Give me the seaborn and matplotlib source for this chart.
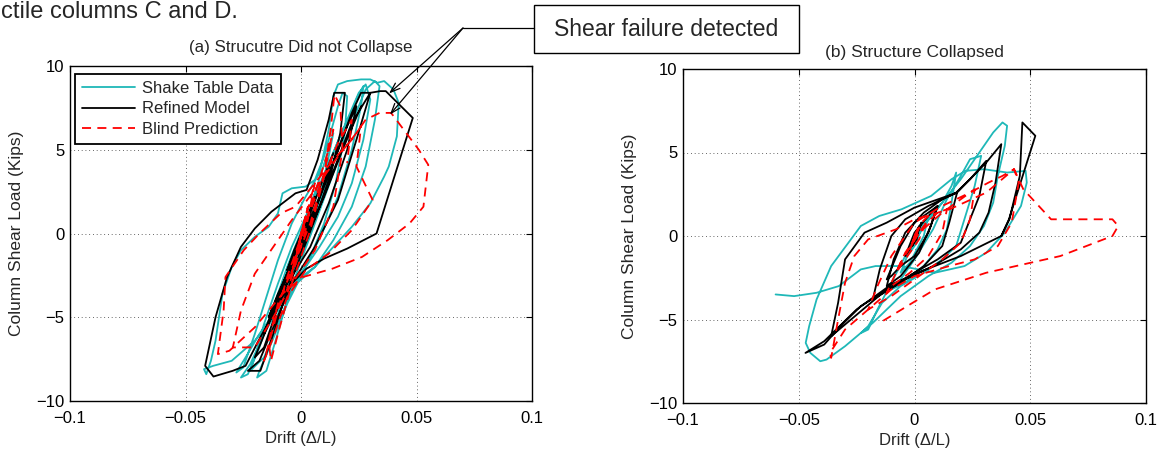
import numpy as np
import pandas as pd
import matplotlib
matplotlib.use("Agg")
import matplotlib.pyplot as plt
from matplotlib.lines import Line2D
from matplotlib.patches import Rectangle
import seaborn as sns

# drift (Delta/L), column shear load (kips)

# (a) structure did not collapse
shake_a = [
    (0.000, 0.2), (0.004, 1.6), (0.007, 2.8), (0.005, 1.8), (0.001, 0.2), (-0.004, -1.4),
    (-0.007, -2.6), (-0.004, -1.6), (0.000, 0.0), (0.006, 2.4), (0.011, 4.6), (0.014, 6.0),
    (0.012, 4.6), (0.008, 2.0), (0.003, -0.2), (-0.003, -2.2), (-0.009, -4.4), (-0.013, -6.2),
    (-0.010, -5.0), (-0.005, -3.0), (0.002, -0.6), (0.010, 2.6), (0.018, 5.8), (0.024, 8.0),
    (0.027, 8.8), (0.026, 7.6), (0.022, 5.0), (0.016, 2.2), (0.009, 0.0), (0.002, -2.0),
    (-0.006, -4.2), (-0.013, -6.6), (-0.018, -8.2), (-0.019, -8.6), (-0.015, -8.2),
    (-0.011, -6.4), (-0.006, -4.0), (-0.001, -2.0), (0.006, 0.6), (0.014, 3.6), (0.022, 6.6),
    (0.028, 8.6), (0.032, 9.1), (0.034, 8.8), (0.032, 6.8), (0.028, 4.0), (0.022, 1.6),
    (0.014, -0.4), (0.006, -2.0), (-0.002, -3.0), (-0.010, -4.4), (-0.018, -6.0),
    (-0.024, -7.4), (-0.028, -8.3), (-0.025, -8.0), (-0.020, -6.0), (-0.015, -3.8),
    (-0.010, -1.6), (-0.004, 0.6), (0.002, 2.2), (0.008, 3.6), (0.012, 6.2), (0.014, 8.2),
    (0.016, 8.9), (0.020, 9.1), (0.026, 9.2), (0.030, 9.2), (0.033, 9.0), (0.036, 9.1),
    (0.040, 8.6), (0.0423, 7.8), (0.0415, 5.8), (0.038, 4.0), (0.036, 3.4), (0.030, 1.8),
    (0.022, 0.4), (0.014, -0.8), (0.006, -2.0), (-0.002, -2.8), (-0.006, -3.6),
    (-0.012, -5.0), (-0.020, -6.4), (-0.030, -7.6), (-0.038, -7.9), (-0.042, -8.1),
    (-0.041, -8.4), (-0.039, -7.6), (-0.037, -6.4), (-0.034, -3.6), (-0.030, -2.0),
    (-0.026, -1.0), (-0.020, -0.2), (-0.014, 0.4), (-0.010, 1.2), (-0.008, 2.4),
    (-0.004, 2.7), (0.002, 2.8), (0.006, 3.2), (0.010, 4.6), (0.014, 6.6), (0.016, 7.6),
    (0.018, 8.4), (0.020, 8.2), (0.019, 6.0), (0.015, 3.0), (0.010, 0.6), (0.004, -1.4),
    (-0.004, -3.4), (-0.010, -5.4), (-0.016, -7.4), (-0.022, -8.2), (-0.020, -7.4),
    (-0.016, -5.4), (-0.010, -3.0), (-0.004, -0.8), (0.004, 1.6), (0.012, 4.2),
    (0.020, 6.8), (0.025, 8.4), (0.028, 8.9), (0.030, 8.0), (0.027, 5.6), (0.022, 3.0),
    (0.016, 1.0), (0.008, -0.8), (0.000, -2.4), (-0.008, -4.0), (-0.016, -6.0),
    (-0.022, -7.8), (-0.026, -8.6), (-0.023, -8.4), (-0.018, -6.8), (-0.012, -4.4),
    (-0.006, -2.0), (0.002, 0.8), (0.010, 3.4), (0.018, 6.2), (0.024, 7.4),
]
refined_a = [
    (0.000, 0.0), (0.003, 1.0), (0.006, 2.2), (0.002, 0.6), (-0.003, -1.0), (-0.006, -2.2),
    (-0.002, -0.8), (0.004, 1.2), (0.010, 3.4), (0.014, 4.8), (0.010, 3.0), (0.004, 0.4),
    (-0.004, -1.8), (-0.010, -3.6), (-0.014, -5.0), (-0.009, -3.4), (-0.002, -1.0),
    (0.008, 2.2), (0.016, 5.0), (0.022, 7.2), (0.026, 8.4), (0.030, 8.4), (0.024, 5.6),
    (0.016, 2.0), (0.006, -0.8), (-0.004, -3.0), (-0.012, -5.6), (-0.018, -7.6),
    (-0.023, -8.2), (-0.0176, -8.2), (-0.012, -6.0), (-0.006, -3.4), (0.002, -0.6),
    (0.012, 3.0), (0.022, 6.6), (0.030, 8.4), (0.0343, 8.5), (0.0367, 8.5), (0.0484, 6.9),
    (0.0327, 0.0), (0.020, -0.9), (0.010, -1.5), (0.0024, -2.1), (-0.0056, -3.2),
    (-0.012, -4.8), (-0.0184, -6.4), (-0.024, -7.9), (-0.0296, -8.2), (-0.0379, -8.54),
    (-0.0415, -7.9), (-0.037, -5.0), (-0.032, -2.6), (-0.026, -0.8), (-0.020, 0.3),
    (-0.0128, 1.3), (-0.0024, 2.4), (0.0024, 2.6), (0.0072, 4.4), (0.012, 6.8),
    (0.0144, 8.4), (0.019, 8.4), (0.017, 6.0), (0.013, 3.6), (0.008, 1.6), (0.002, 0.0),
    (-0.006, -2.4), (-0.012, -4.4), (-0.016, -6.0), (-0.012, -4.6), (-0.004, -2.0),
    (0.006, 1.4), (0.014, 4.2), (0.020, 6.4), (0.024, 7.6), (0.020, 5.0), (0.012, 1.8),
    (0.004, -0.8), (-0.006, -3.0), (-0.014, -5.4), (-0.020, -7.4), (-0.016, -6.8),
    (-0.008, -3.6), (0.000, -1.0), (0.010, 2.2), (0.018, 5.0), (0.026, 7.6),
]
blind_a = [
    (0.000, 0.0), (0.002, 1.0), (-0.001, -0.6), (0.003, 1.6), (-0.002, -1.4), (0.001, 0.4),
    (-0.004, -2.4), (0.004, 2.0), (0.006, 3.0), (0.002, 0.2), (-0.004, -2.6), (-0.006, -3.4),
    (-0.002, -1.2), (0.006, 2.4), (0.012, 5.0), (0.014, 6.2), (0.010, 3.6), (0.004, 0.6),
    (-0.004, -2.2), (-0.010, -4.2), (-0.014, -6.4), (-0.013, -7.6), (-0.010, -6.0),
    (-0.004, -3.0), (0.004, 0.2), (0.010, 3.4), (0.013, 6.4), (0.0145, 8.3), (0.017, 7.6),
    (0.018, 5.0), (0.014, 1.6), (0.006, -1.0), (-0.004, -3.0), (-0.012, -5.0),
    (-0.020, -6.8), (-0.0295, -6.8), (-0.026, -4.6), (-0.020, -2.4), (-0.012, -0.8),
    (-0.004, 0.8), (0.006, 2.6), (0.016, 4.6), (0.024, 6.0), (0.028, 6.8), (0.034, 7.2),
    (0.039, 7.2), (0.051, 5.0), (0.0551, 4.1), (0.053, 1.6), (0.047, 0.6), (0.0375, -0.4),
    (0.0264, -1.4), (0.0136, -2.1), (0.0008, -2.6), (-0.008, -3.6), (-0.020, -5.6),
    (-0.031, -7.0), (-0.036, -7.2), (-0.0335, -4.6), (-0.0327, -2.6), (-0.0248, -1.0),
    (-0.018, 0.0), (-0.0088, 1.2), (-0.0024, 1.6), (0.006, 3.0), (0.014, 4.4),
    (0.022, 5.6), (0.026, 6.4), (0.024, 4.0), (0.031, 2.0), (0.022, 0.2), (0.012, -1.2),
    (0.002, -2.2), (-0.006, -3.8), (-0.012, -6.2), (-0.016, -7.6), (-0.012, -5.6),
    (-0.006, -2.6), (0.002, 0.6), (0.008, 2.8), (0.016, 5.4), (0.022, 6.8), (0.020, 4.2),
]

# (b) structure collapsed
shake_b = [
    (0.000, 0.0), (0.003, 0.8), (0.001, -0.4), (-0.002, -1.0), (0.002, 0.4), (0.006, 1.2),
    (0.004, 0.0), (-0.002, -1.6), (-0.006, -2.2), (-0.002, -0.8), (0.006, 1.0), (0.012, 2.0),
    (0.016, 3.0), (0.018, 3.8), (0.016, 2.0), (0.014, 0.4), (0.010, -0.8), (0.004, -1.8),
    (-0.004, -2.8), (-0.010, -3.2), (-0.006, -2.6), (0.000, -1.4), (0.008, 0.4),
    (0.014, 2.2), (0.020, 3.6), (0.024, 4.6), (0.0288, 4.8), (0.026, 3.0), (0.022, 1.2),
    (0.018, -0.6), (0.012, -1.4), (0.004, -2.2), (-0.006, -3.0), (-0.014, -4.0),
    (-0.020, -5.4), (-0.023, -5.8), (-0.020, -5.6), (-0.016, -4.4), (-0.010, -2.8),
    (-0.004, -1.2), (0.004, 0.6), (0.012, 2.0), (0.020, 3.4), (0.028, 5.0), (0.034, 6.2),
    (0.038, 6.8), (0.040, 6.6), (0.039, 5.4), (0.036, 3.6), (0.034, 2.0), (0.030, 0.6),
    (0.024, -0.6), (0.016, -1.6), (0.006, -2.4), (-0.006, -3.6), (-0.018, -5.2),
    (-0.030, -6.6), (-0.038, -7.4), (-0.0407, -7.5), (-0.045, -7.0), (-0.047, -6.4),
    (-0.0455, -5.4), (-0.0423, -3.8), (-0.036, -1.8), (-0.0296, -0.6), (-0.0232, 0.6),
    (-0.0152, 1.2), (-0.0056, 1.6), (0.0072, 2.4), (0.016, 3.4), (0.022, 3.9),
    (0.030, 4.0), (0.040, 3.8), (0.048, 3.9), (0.0485, 3.2), (0.046, 1.8), (0.039, 0.2),
    (0.031, -1.0), (0.0216, -1.8), (0.0088, -2.2), (-0.0056, -1.8), (-0.0168, -1.8),
    (-0.0232, -2.0), (-0.0327, -3.0), (-0.0423, -3.4), (-0.052, -3.6), (-0.060, -3.5),
]
refined_b = [
    (0.000, 0.0), (0.002, 0.6), (0.001, -0.2), (-0.001, -0.6), (0.002, 0.4), (0.003, 0.8),
    (-0.002, -0.8), (-0.004, -1.2), (0.000, 0.2), (0.006, 1.2), (0.010, 1.8), (0.006, 0.2),
    (0.000, -1.2), (-0.006, -1.8), (-0.010, -2.4), (-0.012, -2.6), (-0.006, -0.6),
    (0.000, 0.8), (0.008, 1.6), (0.010, 1.8), (0.007, 0.6), (0.002, -1.0), (-0.006, -2.4),
    (-0.012, -3.0), (-0.009, -1.4), (-0.004, 0.2), (0.004, 1.4), (0.012, 2.2),
    (0.0184, 2.6), (0.015, 0.8), (0.012, -0.6), (0.004, -1.8), (-0.006, -2.8),
    (-0.018, -3.8), (-0.015, -2.0), (-0.010, 0.0), (-0.004, 1.0), (0.006, 1.8),
    (0.018, 2.6), (0.024, 3.4), (0.031, 4.5), (0.028, 2.4), (0.024, 1.0), (0.020, -0.4),
    (0.010, -1.4), (0.000, -2.2), (-0.012, -3.2), (-0.024, -4.6), (-0.036, -6.0),
    (-0.033, -4.0), (-0.030, -1.4), (-0.0216, 0.2), (-0.012, 0.8), (0.000, 1.7),
    (0.0184, 2.6), (0.031, 4.4), (0.0375, 5.5), (0.035, 3.2), (0.032, 1.4), (0.028, 0.2),
    (0.020, -0.8), (0.008, -1.8), (-0.004, -2.6), (-0.014, -3.4), (-0.0232, -4.2),
    (-0.032, -5.4), (-0.039, -6.5), (-0.0471, -7.0), (-0.039, -6.3), (-0.025, -4.4),
    (-0.010, -2.9), (0.005, -2.0), (0.020, -1.2), (0.0375, 0.0), (0.041, 1.0),
    (0.0455, 3.6), (0.0466, 6.8), (0.0522, 6.0), (0.0408, 1.0), (0.0375, 0.0),
]
blind_b = [
    (0.000, 0.0), (0.002, 0.6), (-0.001, -0.4), (0.001, 0.3), (-0.002, -0.8), (0.003, 0.8),
    (0.006, 1.2), (0.002, -0.2), (-0.004, -1.4), (-0.008, -2.2), (-0.004, -1.0),
    (0.004, 0.6), (0.010, 1.4), (0.014, 1.6), (0.012, 0.2), (0.006, -1.2), (-0.002, -2.2),
    (-0.010, -3.0), (-0.012, -3.4), (-0.006, -1.6), (0.002, 0.2), (0.012, 1.4),
    (0.020, 2.2), (0.026, 2.8), (0.024, 1.0), (0.020, -0.4), (0.012, -1.4), (0.002, -2.4),
    (-0.010, -3.6), (-0.020, -4.4), (-0.016, -3.0), (-0.010, -1.2), (0.000, 0.8),
    (0.012, 1.8), (0.024, 2.6), (0.032, 3.2), (0.038, 3.6), (0.043, 4.0), (0.045, 3.2),
    (0.042, 0.8), (0.036, -0.6), (0.026, -1.4), (0.015, -1.8), (0.000, -2.4),
    (-0.010, -3.2), (-0.020, -4.4), (-0.030, -5.6), (-0.0365, -7.0), (-0.036, -7.3),
    (-0.033, -5.0), (-0.030, -2.8), (-0.026, -1.2), (-0.020, -0.2), (-0.008, 0.4),
    (0.000, 1.0), (0.0152, 1.6), (0.031, 2.6), (0.043, 4.0), (0.047, 2.8), (0.055, 1.6),
    (0.059, 1.0), (0.0855, 1.0), (0.088, 0.6), (0.0855, 0.0), (0.063, -1.2),
    (0.031, -2.2), (0.0088, -3.2), (-0.0008, -4.0), (-0.015, -5.2),
]

series_names = ["Shake Table Data", "Refined Model", "Blind Prediction"]
series_colors = ["#1fb8b8", "black", "red"]
panel_titles = ["(a) Strucutre Did not Collapse", "(b) Structure Collapsed"]
x_ticks = [-0.1, -0.05, 0, 0.05, 0.1]
x_tick_labels = ["\u22120.1", "\u22120.05", "0", "0.05", "0.1"]
y_ticks = [-10, -5, 0, 5, 10]
y_tick_labels = ["\u221210", "\u22125", "0", "5", "10"]

sns.set_style("white")
plt.rcParams["font.family"] = ["Liberation Sans", "DejaVu Sans"]

W, H = 1159, 451
fig = plt.figure(figsize=(W / 100, H / 100), dpi=100)
ax_a = fig.add_axes([70 / W, 1 - 401 / H, 462 / W, 335 / H])
ax_b = fig.add_axes([683 / W, 1 - 403 / H, 463 / W, 334 / H])


def draw_series(ax, pts, color, label, dashed=False):
    df = pd.DataFrame(pts, columns=["drift", "load"])
    ls = (0, (5, 3.5)) if dashed else "-"
    sns.lineplot(data=df, x="drift", y="load", sort=False, estimator=None,
                 color=color, linewidth=1.3, linestyle=ls, label=label, ax=ax)


panels = [
    (ax_a, shake_a, refined_a, blind_a),
    (ax_b, shake_b, refined_b, blind_b),
]
for ax, shake, refined, blind in panels:
    draw_series(ax, shake, series_colors[0], series_names[0])
    draw_series(ax, refined, series_colors[1], series_names[1])
    draw_series(ax, blind, series_colors[2], series_names[2], dashed=True)

    ax.set_xlim(-0.1, 0.1)
    ax.set_ylim(-10, 10)
    ax.set_xticks(x_ticks)
    ax.set_xticklabels(x_tick_labels)
    ax.set_yticks(y_ticks)
    ax.set_yticklabels(y_tick_labels)
    ax.grid(True, color="black", linestyle=(0, (1, 3.5)), linewidth=0.6, alpha=0.8)
    ax.tick_params(direction="in", length=4, width=0.8, top=True, right=True,
                   labelsize=12, colors="black")
    ax.tick_params(axis="x", pad=7)
    ax.tick_params(axis="y", pad=4)
    for sp in ax.spines.values():
        sp.set_linewidth(1.0)
        sp.set_color("black")
    ax.set_xlabel("Drift (\u0394/L)", fontsize=12, va="baseline")
    ax.xaxis.set_label_coords(0.5, -42 / 335)
    ax.set_ylabel("Column Shear Load (Kips)", fontsize=12.5, va="center")
    ax.yaxis.set_label_coords(-53 / 462, 0.5)
    if ax.get_legend() is not None:
        ax.get_legend().remove()

ax_a.text(0.5, 1 + 14 / 335, panel_titles[0], transform=ax_a.transAxes,
          ha="center", va="baseline", fontsize=12.2)
ax_b.text(0.5, 1 + 12 / 334, panel_titles[1], transform=ax_b.transAxes,
          ha="center", va="baseline", fontsize=12.5)

leg = ax_a.legend(loc="upper left", bbox_to_anchor=(5 / 462, 1 - 8 / 335),
                  borderaxespad=0, fontsize=12, frameon=True, fancybox=False,
                  framealpha=1, edgecolor="black", handlelength=3.2,
                  handletextpad=0.45, labelspacing=0.35, borderpad=0.4)
leg.get_frame().set_linewidth(1.3)

# callout for shear failure
fig.add_artist(Rectangle((534 / W, 1 - 53 / H), 265 / W, 48 / H, transform=fig.transFigure,
                         facecolor="white", edgecolor="black", linewidth=1.0))
fig.text(666 / W, 1 - 29 / H, "Shear failure detected", ha="center", va="center",
         fontsize=16.5)
hub = (463 / W, 1 - 28 / H)
fig.add_artist(Line2D([hub[0], 534 / W], [hub[1], hub[1]], transform=fig.transFigure,
                      color="black", linewidth=0.9))
for tip in [(0.0381, 8.36), (0.0385, 7.1)]:
    ax_a.annotate("", xy=tip, xycoords="data", xytext=hub, textcoords="figure fraction",
                  annotation_clip=False,
                  arrowprops=dict(arrowstyle="->,head_length=0.7,head_width=0.25",
                                  color="black", lw=0.9, shrinkA=0, shrinkB=0))

fig.text(0.001, 1 - 18 / H, "ctile columns C and D.", ha="left", va="baseline", fontsize=17)

fig.savefig("out.png", dpi=100)
